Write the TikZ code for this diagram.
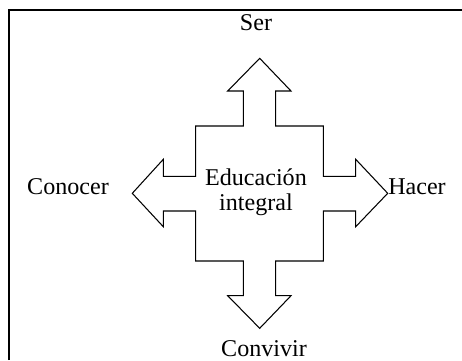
\documentclass[tikz,border=0pt]{standalone}
\usepackage{fontspec}
\setmainfont{Liberation Serif}
\usepackage{tikz}

\begin{document}
\begin{tikzpicture}[x=0.02cm,y=-0.02cm]
		\tikzstyle{every node}+=[inner sep=0pt, font=\fontsize{13.7}{14.2}\selectfont]
		\useasboundingbox (0,0) rectangle (462,360);
		\draw [black, line width=0.8pt] (9,360) -- (9,10) -- (462,10);
		\draw [black, line width=0.6pt, line join=miter] (259.7,58.3) -- (291,91) -- (275.7,91) -- (275.7,126)
			-- (323.3,126) -- (323.3,176.3) -- (355.7,176.3) -- (355.7,159.3) -- (387.7,193.3)
			-- (355.7,226.7) -- (355.7,211) -- (323.3,211) -- (323.3,261) -- (275.7,261)
			-- (275.7,295.7) -- (291,295.7) -- (259.7,328.3) -- (227.7,295.7) -- (243.3,295.7)
			-- (243.3,261) -- (195.7,261) -- (195.7,211) -- (163.3,211) -- (163.3,226.7)
			-- (132.3,193.3) -- (163.3,159.3) -- (163.3,176.3) -- (195.7,176.3) -- (195.7,126)
			-- (243.3,126) -- (243.3,91) -- (227.7,91) -- cycle;
		\node [align=center] (educacion) at (256,192) {Educación\\integral};
		\node [anchor=base] (ser) at (256,30) {Ser};
		\node [anchor=base] (conocer) at (68,194) {Conocer};
		\node [anchor=base] (hacer) at (417,194) {Hacer};
		\node [anchor=base] (convivir) at (264,356) {Convivir};
	\end{tikzpicture}
\end{document}
